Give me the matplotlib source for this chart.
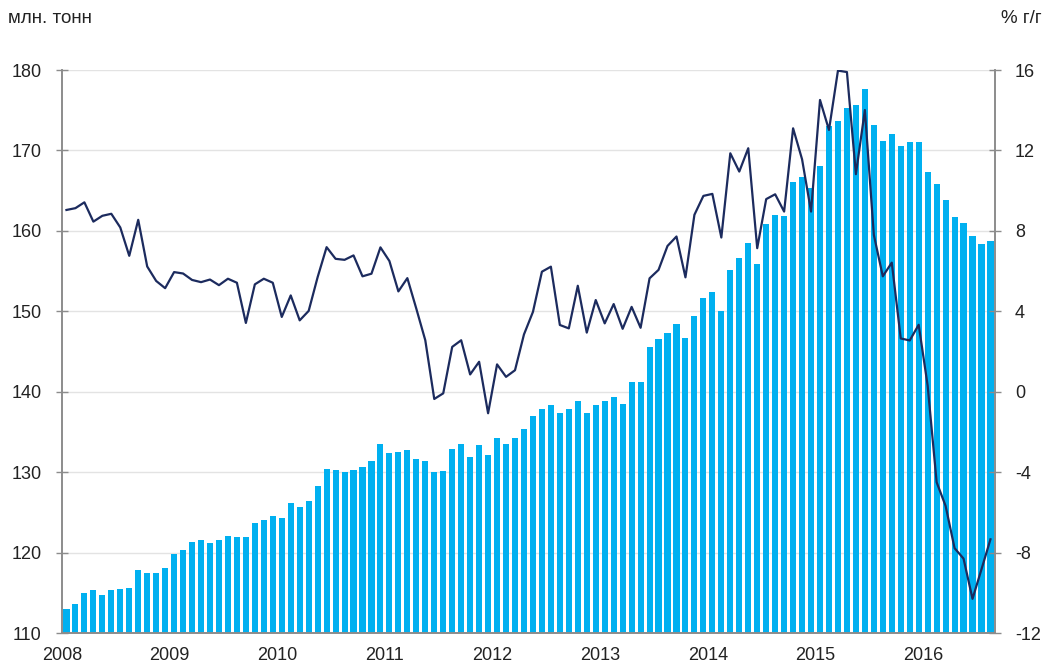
import numpy as np
import matplotlib
matplotlib.use("Agg")
import matplotlib.pyplot as plt

plt.rcParams['font.family'] = ['Liberation Sans', 'DejaVu Sans']
plt.rcParams['axes.unicode_minus'] = False

# monthly data, Jan 2008 - Aug 2016
years = ['2008', '2009', '2010', '2011', '2012', '2013', '2014', '2015', '2016']

# volume, mln tonnes (left axis)
volume = [
    113.0, 113.6, 115.0, 115.3, 114.7, 115.4, 115.5, 115.6, 117.8, 117.4, 117.5, 118.1,  # 2008
    119.8, 120.3, 121.3, 121.6, 121.2, 121.6, 122.1, 121.95, 121.9, 123.7, 124.1, 124.6,  # 2009
    124.3, 126.2, 125.7, 126.4, 128.3, 130.4, 130.25, 130.0, 130.25, 130.7, 131.4, 133.5,  # 2010
    132.4, 132.45, 132.8, 131.6, 131.4, 130.0, 130.1, 132.85, 133.5, 131.9, 133.4, 132.1,  # 2011
    134.2, 133.5, 134.3, 135.4, 137.0, 137.8, 138.3, 137.4, 137.8, 138.9, 137.3, 138.3,  # 2012
    138.8, 139.3, 138.5, 141.2, 141.2, 145.5, 146.6, 147.3, 148.4, 146.7, 149.4, 151.7,  # 2013
    152.4, 150.0, 155.1, 156.6, 158.5, 155.9, 160.8, 162.0, 161.8, 166.1, 166.7, 165.3,  # 2014
    168.1, 173.1, 173.7, 175.3, 175.6, 177.7, 173.2, 171.2, 172.1, 170.5, 171.0, 171.0,  # 2015
    167.3, 165.8, 163.9, 161.7, 161.0, 159.4, 158.4, 158.7,  # 2016
]

# growth, % y/y (right axis)
growth = [
    9.04, 9.13, 9.42, 8.46, 8.75, 8.85, 8.17, 6.76, 8.55, 6.23, 5.51, 5.15,
    5.95, 5.88, 5.56, 5.45, 5.58, 5.30, 5.62, 5.42, 3.42, 5.34, 5.62, 5.42,
    3.72, 4.79, 3.55, 4.02, 5.70, 7.19, 6.61, 6.56, 6.78, 5.74, 5.87, 7.18,
    6.50, 4.99, 5.65, 4.13, 2.56, -0.36, -0.08, 2.23, 2.56, 0.86, 1.49, -1.07,
    1.36, 0.74, 1.07, 2.85, 3.97, 5.97, 6.22, 3.32, 3.15, 5.27, 2.94, 4.56,
    3.40, 4.36, 3.13, 4.22, 3.18, 5.64, 6.06, 7.25, 7.72, 5.69, 8.80, 9.74,
    9.84, 7.67, 11.86, 10.95, 12.11, 7.14, 9.58, 9.82, 8.96, 13.10, 11.56, 8.96,
    14.51, 13.02, 15.97, 15.90, 10.82, 14.01, 7.80, 5.74, 6.42, 2.65, 2.55, 3.33,
    0.30, -4.50, -5.68, -7.78, -8.30, -10.30, -8.83, -7.34,
]

left_ticks = [110, 120, 130, 140, 150, 160, 170, 180]
right_ticks = [-12, -8, -4, 0, 4, 8, 12, 16]

x = np.arange(len(volume))

fig = plt.figure(figsize=(10.45, 6.65), dpi=100)
ax = fig.add_axes([0.0593, 0.0481, 0.8928, 0.8466])
ax2 = ax.twinx()

ax.bar(x, volume, width=0.68, color='#00b0f0', zorder=2)
ax2.plot(x, growth, color='#1c2b5e', linewidth=1.6)

ax.set_xlim(-0.5, len(volume) - 0.5)
ax.set_ylim(110, 180)
ax2.set_ylim(-12, 16)
ax.set_yticks(left_ticks)
ax2.set_yticks(right_ticks)
ax.set_xticks(np.arange(len(years)) * 12 - 0.5)
ax.set_xticklabels(years)

ax.grid(axis='y', color='#e3e3e3', linewidth=1.0, zorder=0)
ax.set_axisbelow(True)

for a in (ax, ax2):
    a.spines['top'].set_visible(False)
    for s in ('left', 'right', 'bottom'):
        a.spines[s].set_color('#8c8c8c')
        a.spines[s].set_linewidth(1.2)

ax.tick_params(axis='y', direction='inout', length=9, width=1, color='#8c8c8c',
               labelsize=13, pad=10, labelcolor='#222222')
ax2.tick_params(axis='y', direction='inout', length=9, width=1, color='#8c8c8c',
                labelsize=13, pad=10, labelcolor='#222222')
ax.tick_params(axis='x', length=0, labelsize=13, pad=10, labelcolor='#222222')

fig.text(0.008, 0.972, 'млн. тонн', fontsize=13.5, color='#222222', ha='left', va='center')
fig.text(0.997, 0.972, '% г/г', fontsize=13.5, color='#222222', ha='right', va='center')

fig.savefig('out.png', dpi=100)
